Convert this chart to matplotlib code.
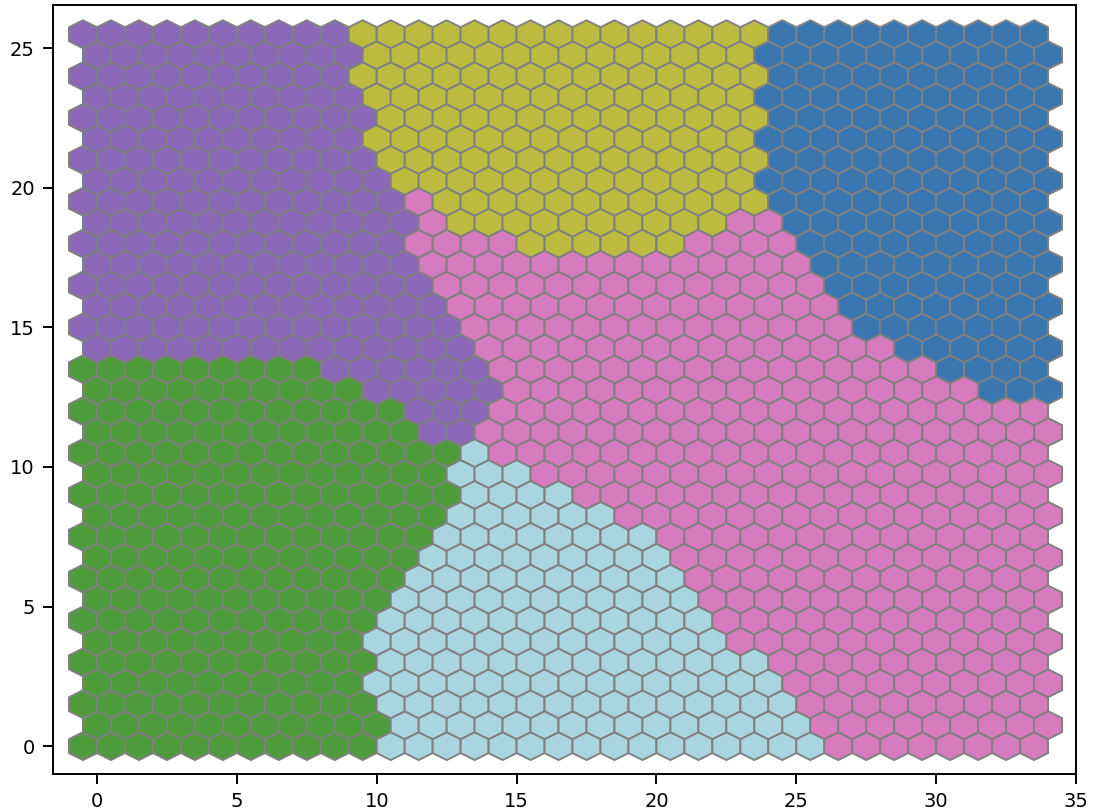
import numpy as np
import matplotlib.pyplot as plt
from matplotlib.collections import PolyCollection

# cluster colours (P purple, O olive, B blue, K pink, G green, L light blue)
cluster_colors = {
    "P": "#8c68b9",
    "O": "#bcbb40",
    "B": "#3a77b0",
    "K": "#d67bbd",
    "G": "#4e9c3c",
    "L": "#a8d5e0",
}

n_cols = 35

# run-length coded cluster label per hex row, bottom row first
row_runs = [
    [("G", 11), ("L", 16), ("K", 8)],                                  # 0
    [("G", 11), ("L", 15), ("K", 9)],                                  # 1
    [("G", 11), ("L", 15), ("K", 9)],                                  # 2
    [("G", 10), ("L", 15), ("K", 10)],                                 # 3
    [("G", 11), ("L", 14), ("K", 10)],                                 # 4
    [("G", 10), ("L", 13), ("K", 12)],                                 # 5
    [("G", 11), ("L", 12), ("K", 12)],                                 # 6
    [("G", 11), ("L", 11), ("K", 13)],                                 # 7
    [("G", 12), ("L", 10), ("K", 13)],                                 # 8
    [("G", 12), ("L", 9), ("K", 14)],                                  # 9
    [("G", 13), ("L", 8), ("K", 14)],                                  # 10
    [("G", 13), ("L", 6), ("K", 16)],                                  # 11
    [("G", 14), ("L", 4), ("K", 17)],                                  # 12
    [("G", 13), ("L", 3), ("K", 19)],                                  # 13
    [("G", 14), ("L", 1), ("K", 20)],                                  # 14
    [("G", 12), ("P", 2), ("K", 21)],                                  # 15
    [("G", 12), ("P", 3), ("K", 20)],                                  # 16
    [("G", 10), ("P", 5), ("K", 17), ("B", 3)],                        # 17
    [("G", 9), ("P", 6), ("K", 16), ("B", 4)],                         # 18
    [("P", 14), ("K", 15), ("B", 6)],                                  # 19
    [("P", 14), ("K", 14), ("B", 7)],                                  # 20
    [("P", 13), ("K", 14), ("B", 8)],                                  # 21
    [("P", 13), ("K", 14), ("B", 8)],                                  # 22
    [("P", 12), ("K", 14), ("B", 9)],                                  # 23
    [("P", 12), ("K", 4), ("O", 6), ("K", 4), ("B", 9)],               # 24
    [("P", 12), ("K", 1), ("O", 10), ("K", 2), ("B", 10)],             # 25
    [("P", 12), ("K", 1), ("O", 12), ("B", 10)],                       # 26
    [("P", 11), ("O", 13), ("B", 11)],                                 # 27
    [("P", 11), ("O", 14), ("B", 10)],                                 # 28
    [("P", 10), ("O", 14), ("B", 11)],                                 # 29
    [("P", 11), ("O", 14), ("B", 10)],                                 # 30
    [("P", 10), ("O", 14), ("B", 11)],                                 # 31
    [("P", 10), ("O", 15), ("B", 10)],                                 # 32
    [("P", 10), ("O", 14), ("B", 11)],                                 # 33
    [("P", 10), ("O", 15), ("B", 10)],                                 # 34
]

row_labels = ["".join(k * n for k, n in runs) for runs in row_runs]

# pointy-top hexagon, one unit wide, rows 0.75 apart
hex_shape = np.array([[0, 0.5], [0.5, 0.25], [0.5, -0.25],
                      [0, -0.5], [-0.5, -0.25], [-0.5, 0.25]])

verts = []
faces = []
for r, labels in enumerate(row_labels):
    for c, lab in enumerate(labels[:n_cols]):
        x = c - 0.5 if r % 2 == 0 else c
        y = r * 0.75
        verts.append(hex_shape + [x, y])
        faces.append(cluster_colors[lab])

fig = plt.figure(figsize=(10.96, 8.11), dpi=100)
ax = fig.add_axes([0.0484, 0.0456, 0.9334, 0.948])

coll = PolyCollection(verts, facecolors=faces, edgecolors="gray", linewidths=1.4)
ax.add_collection(coll)

ax.set_xlim(-1.57, 35)
ax.set_ylim(-1.0, 26.54)
ax.set_xticks(np.arange(0, 36, 5))
ax.set_yticks(np.arange(0, 26, 5))
ax.tick_params(labelsize=14, length=7, width=1.4, pad=6)
for s in ax.spines.values():
    s.set_linewidth(1.4)

plt.savefig("out.png")
